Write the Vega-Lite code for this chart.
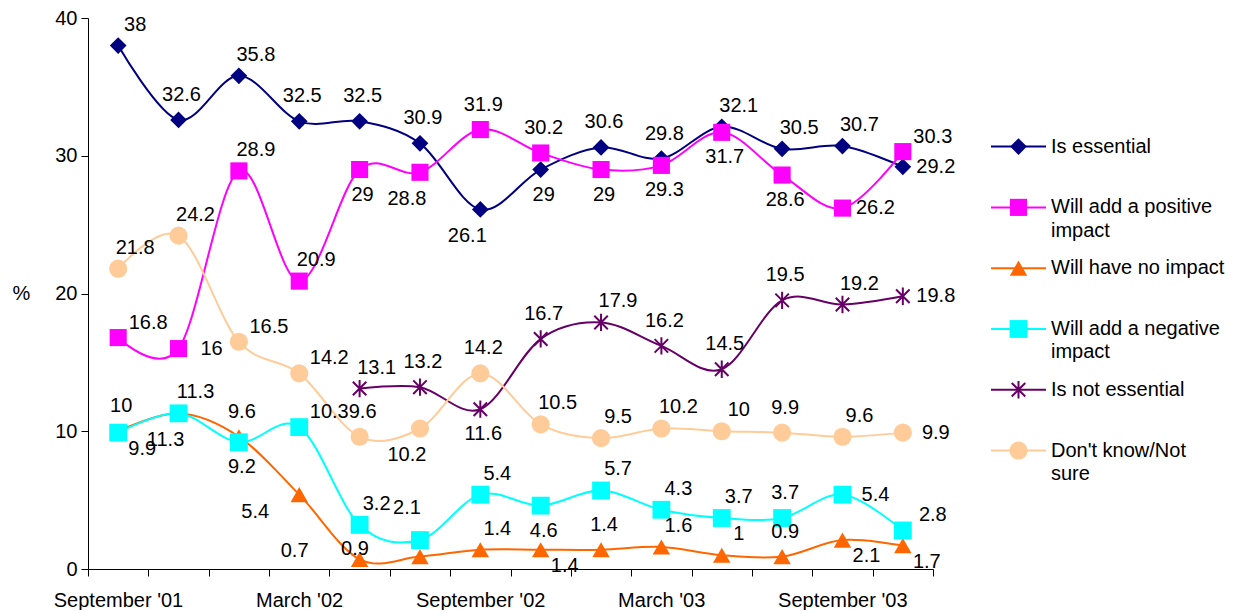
{
  "$schema": "https://vega.github.io/schema/vega-lite/v6.json",
  "background": "white",
  "padding": {"left": 12, "top": 8, "right": 0, "bottom": 0},
  "bounds": "flush",
  "spacing": 58,
  "config": {
    "view": {"stroke": null},
    "font": "Liberation Sans",
    "axis": {"labelFont": "Liberation Sans", "titleFont": "Liberation Sans", "labelFontSize": 20, "titleFontSize": 20, "labelColor": "#000", "titleColor": "#000", "domainColor": "#000", "tickColor": "#000", "grid": false, "tickSize": 7, "titleFontWeight": "normal"},
    "text": {"font": "Liberation Sans", "fontSize": 20, "color": "#000"}
  },
  "resolve": {"scale": {"x": "independent", "y": "independent"}},
  "datasets": {
    "main": [
      {"series": "Is essential", "code": "E", "i": 0, "value": 38},
      {"series": "Is essential", "code": "E", "i": 1, "value": 32.6},
      {"series": "Is essential", "code": "E", "i": 2, "value": 35.8},
      {"series": "Is essential", "code": "E", "i": 3, "value": 32.5},
      {"series": "Is essential", "code": "E", "i": 4, "value": 32.5},
      {"series": "Is essential", "code": "E", "i": 5, "value": 30.9},
      {"series": "Is essential", "code": "E", "i": 6, "value": 26.1},
      {"series": "Is essential", "code": "E", "i": 7, "value": 29},
      {"series": "Is essential", "code": "E", "i": 8, "value": 30.6},
      {"series": "Is essential", "code": "E", "i": 9, "value": 29.8},
      {"series": "Is essential", "code": "E", "i": 10, "value": 32.1},
      {"series": "Is essential", "code": "E", "i": 11, "value": 30.5},
      {"series": "Is essential", "code": "E", "i": 12, "value": 30.7},
      {"series": "Is essential", "code": "E", "i": 13, "value": 29.2},
      {"series": "Will add a positive impact", "code": "P", "i": 0, "value": 16.8},
      {"series": "Will add a positive impact", "code": "P", "i": 1, "value": 16},
      {"series": "Will add a positive impact", "code": "P", "i": 2, "value": 28.9},
      {"series": "Will add a positive impact", "code": "P", "i": 3, "value": 20.9},
      {"series": "Will add a positive impact", "code": "P", "i": 4, "value": 29},
      {"series": "Will add a positive impact", "code": "P", "i": 5, "value": 28.8},
      {"series": "Will add a positive impact", "code": "P", "i": 6, "value": 31.9},
      {"series": "Will add a positive impact", "code": "P", "i": 7, "value": 30.2},
      {"series": "Will add a positive impact", "code": "P", "i": 8, "value": 29},
      {"series": "Will add a positive impact", "code": "P", "i": 9, "value": 29.3},
      {"series": "Will add a positive impact", "code": "P", "i": 10, "value": 31.7},
      {"series": "Will add a positive impact", "code": "P", "i": 11, "value": 28.6},
      {"series": "Will add a positive impact", "code": "P", "i": 12, "value": 26.2},
      {"series": "Will add a positive impact", "code": "P", "i": 13, "value": 30.3},
      {"series": "Will have no impact", "code": "N", "i": 0, "value": 10},
      {"series": "Will have no impact", "code": "N", "i": 1, "value": 11.3},
      {"series": "Will have no impact", "code": "N", "i": 2, "value": 9.6},
      {"series": "Will have no impact", "code": "N", "i": 3, "value": 5.4},
      {"series": "Will have no impact", "code": "N", "i": 4, "value": 0.7},
      {"series": "Will have no impact", "code": "N", "i": 5, "value": 0.9},
      {"series": "Will have no impact", "code": "N", "i": 6, "value": 1.4},
      {"series": "Will have no impact", "code": "N", "i": 7, "value": 1.4},
      {"series": "Will have no impact", "code": "N", "i": 8, "value": 1.4},
      {"series": "Will have no impact", "code": "N", "i": 9, "value": 1.6},
      {"series": "Will have no impact", "code": "N", "i": 10, "value": 1},
      {"series": "Will have no impact", "code": "N", "i": 11, "value": 0.9},
      {"series": "Will have no impact", "code": "N", "i": 12, "value": 2.1},
      {"series": "Will have no impact", "code": "N", "i": 13, "value": 1.7},
      {"series": "Will add a negative impact", "code": "G", "i": 0, "value": 9.9},
      {"series": "Will add a negative impact", "code": "G", "i": 1, "value": 11.3},
      {"series": "Will add a negative impact", "code": "G", "i": 2, "value": 9.2},
      {"series": "Will add a negative impact", "code": "G", "i": 3, "value": 10.3},
      {"series": "Will add a negative impact", "code": "G", "i": 4, "value": 3.2},
      {"series": "Will add a negative impact", "code": "G", "i": 5, "value": 2.1},
      {"series": "Will add a negative impact", "code": "G", "i": 6, "value": 5.4},
      {"series": "Will add a negative impact", "code": "G", "i": 7, "value": 4.6},
      {"series": "Will add a negative impact", "code": "G", "i": 8, "value": 5.7},
      {"series": "Will add a negative impact", "code": "G", "i": 9, "value": 4.3},
      {"series": "Will add a negative impact", "code": "G", "i": 10, "value": 3.7},
      {"series": "Will add a negative impact", "code": "G", "i": 11, "value": 3.7},
      {"series": "Will add a negative impact", "code": "G", "i": 12, "value": 5.4},
      {"series": "Will add a negative impact", "code": "G", "i": 13, "value": 2.8},
      {"series": "Is not essential", "code": "X", "i": 4, "value": 13.1},
      {"series": "Is not essential", "code": "X", "i": 5, "value": 13.2},
      {"series": "Is not essential", "code": "X", "i": 6, "value": 11.6},
      {"series": "Is not essential", "code": "X", "i": 7, "value": 16.7},
      {"series": "Is not essential", "code": "X", "i": 8, "value": 17.9},
      {"series": "Is not essential", "code": "X", "i": 9, "value": 16.2},
      {"series": "Is not essential", "code": "X", "i": 10, "value": 14.5},
      {"series": "Is not essential", "code": "X", "i": 11, "value": 19.5},
      {"series": "Is not essential", "code": "X", "i": 12, "value": 19.2},
      {"series": "Is not essential", "code": "X", "i": 13, "value": 19.8},
      {"series": "Don't know/Not sure", "code": "K", "i": 0, "value": 21.8},
      {"series": "Don't know/Not sure", "code": "K", "i": 1, "value": 24.2},
      {"series": "Don't know/Not sure", "code": "K", "i": 2, "value": 16.5},
      {"series": "Don't know/Not sure", "code": "K", "i": 3, "value": 14.2},
      {"series": "Don't know/Not sure", "code": "K", "i": 4, "value": 9.6},
      {"series": "Don't know/Not sure", "code": "K", "i": 5, "value": 10.2},
      {"series": "Don't know/Not sure", "code": "K", "i": 6, "value": 14.2},
      {"series": "Don't know/Not sure", "code": "K", "i": 7, "value": 10.5},
      {"series": "Don't know/Not sure", "code": "K", "i": 8, "value": 9.5},
      {"series": "Don't know/Not sure", "code": "K", "i": 9, "value": 10.2},
      {"series": "Don't know/Not sure", "code": "K", "i": 10, "value": 10},
      {"series": "Don't know/Not sure", "code": "K", "i": 11, "value": 9.9},
      {"series": "Don't know/Not sure", "code": "K", "i": 12, "value": 9.6},
      {"series": "Don't know/Not sure", "code": "K", "i": 13, "value": 9.9}
    ],
    "legend": [
      {"series": "Is essential", "code": "E", "k": 0, "label": "Is essential"},
      {"series": "Will add a positive impact", "code": "P", "k": 1, "label": "Will add a positive\nimpact"},
      {"series": "Will have no impact", "code": "N", "k": 2, "label": "Will have no impact"},
      {"series": "Will add a negative impact", "code": "G", "k": 3, "label": "Will add a negative\nimpact"},
      {"series": "Is not essential", "code": "X", "k": 4, "label": "Is not essential"},
      {"series": "Don't know/Not sure", "code": "K", "k": 5, "label": "Don't know/Not\nsure"}
    ]
  },
  "hconcat": [
    {
      "width": 845,
      "height": 551,
      "data": {"name": "main"},
      "layer": [
        {
          "mark": {"type": "line", "interpolate": "cardinal", "strokeWidth": 2},
          "encoding": {
            "x": {"field": "i", "type": "quantitative", "scale": {"domain": [-0.5, 13.5], "nice": false, "zero": false},
              "axis": {"title": null, "values": [-0.5, 0.5, 1.5, 2.5, 3.5, 4.5, 5.5, 6.5, 7.5, 8.5, 9.5, 10.5, 11.5, 12.5, 13.5],
                "labelExpr": "datum.value === -0.5 ? \"September '01\" : datum.value === 2.5 ? \"March '02\" : datum.value === 5.5 ? \"September '02\" : datum.value === 8.5 ? \"March '03\" : datum.value === 11.5 ? \"September '03\" : ''",
                "labelOffset": 30, "labelOverlap": false, "labelFlush": false, "labelPadding": 14}},
            "y": {"field": "value", "type": "quantitative", "scale": {"domain": [0, 40], "nice": false},
              "axis": {"values": [0, 10, 20, 30, 40], "title": "%", "titleAngle": 0, "titleX": -67, "titleY": 275.5, "titleAlign": "center", "titleBaseline": "middle", "labelPadding": 4}},
            "color": {"field": "series", "type": "nominal",
              "scale": {"domain": ["Is essential", "Will add a positive impact", "Will have no impact", "Will add a negative impact", "Is not essential", "Don't know/Not sure"],
                "range": ["#000080", "#FF00FF", "#FF6600", "#00FFFF", "#660066", "#FFCC99"]}, "legend": null}
          }
        },
        {
          "transform": [{"filter": "datum.code !== 'X'"}],
          "mark": {"type": "point", "filled": true, "opacity": 1},
          "encoding": {
            "x": {"field": "i", "type": "quantitative"},
            "y": {"field": "value", "type": "quantitative"},
            "fill": {"field": "series", "type": "nominal",
              "scale": {"domain": ["Is essential", "Will add a positive impact", "Will have no impact", "Will add a negative impact", "Don't know/Not sure"],
                "range": ["#000080", "#FF00FF", "#FF6600", "#00FFFF", "#FFCC99"]}, "legend": null},
            "shape": {"field": "series", "type": "nominal",
              "scale": {"domain": ["Is essential", "Will add a positive impact", "Will have no impact", "Will add a negative impact", "Don't know/Not sure"],
                "range": ["diamond", "square", "triangle-up", "square", "circle"]}, "legend": null},
            "size": {"field": "series", "type": "nominal",
              "scale": {"domain": ["Is essential", "Will add a positive impact", "Will have no impact", "Will add a negative impact", "Don't know/Not sure"],
                "range": [280, 330, 330, 340, 324]}, "legend": null}
          }
        },
        {
          "transform": [{"filter": "datum.code === 'X'"}],
          "mark": {"type": "point", "filled": false, "opacity": 1, "shape": "M-0.78,-0.78L0.78,0.78M-0.78,0.78L0.78,-0.78M0,-1L0,1", "size": 300, "stroke": "#660066", "strokeWidth": 2},
          "encoding": {
            "x": {"field": "i", "type": "quantitative"},
            "y": {"field": "value", "type": "quantitative"}
          }
        },
        {
          "transform": [{"filter": "indexof(['E1','E3','E4','E5','E8','E9','P6','P7','N0','N2','N8','N11','G11','X5','X7','X9','X10','X11','K4','K6','K11'], datum.code + datum.i) >= 0"}],
          "mark": {"type": "text", "align": "center", "baseline": "middle", "dx": 3, "dy": -25},
          "encoding": {"x": {"field": "i", "type": "quantitative"}, "y": {"field": "value", "type": "quantitative"}, "text": {"field": "value", "type": "nominal"}}
        },
        {
          "transform": [{"filter": "indexof(['E0','E2','E10','E11','E12','P2','P3','N1','N6','N9','N10','G4','G6','G8','G9','G10','X4','X8','X12','K0','K1','K7','K8','K9','K10','K12'], datum.code + datum.i) >= 0"}],
          "mark": {"type": "text", "align": "center", "baseline": "middle", "dx": 17, "dy": -21},
          "encoding": {"x": {"field": "i", "type": "quantitative"}, "y": {"field": "value", "type": "quantitative"}, "text": {"field": "value", "type": "nominal"}}
        },
        {
          "transform": [{"filter": "indexof(['P0','P13','G3','G13','K2','K3'], datum.code + datum.i) >= 0"}],
          "mark": {"type": "text", "align": "center", "baseline": "middle", "dx": 30, "dy": -15},
          "encoding": {"x": {"field": "i", "type": "quantitative"}, "y": {"field": "value", "type": "quantitative"}, "text": {"field": "value", "type": "nominal"}}
        },
        {
          "transform": [{"filter": "indexof(['E13','P1','P12','G12','X13','K13'], datum.code + datum.i) >= 0"}],
          "mark": {"type": "text", "align": "center", "baseline": "middle", "dx": 33, "dy": 0},
          "encoding": {"x": {"field": "i", "type": "quantitative"}, "y": {"field": "value", "type": "quantitative"}, "text": {"field": "value", "type": "nominal"}}
        },
        {
          "transform": [{"filter": "indexof(['E7','P4','P8','P9','P10','P11','G2','G7','X6'], datum.code + datum.i) >= 0"}],
          "mark": {"type": "text", "align": "center", "baseline": "middle", "dx": 3, "dy": 25},
          "encoding": {"x": {"field": "i", "type": "quantitative"}, "y": {"field": "value", "type": "quantitative"}, "text": {"field": "value", "type": "nominal"}}
        },
        {
          "transform": [{"filter": "indexof(['N7','N12','N13','G0'], datum.code + datum.i) >= 0"}],
          "mark": {"type": "text", "align": "center", "baseline": "middle", "dx": 24, "dy": 16},
          "encoding": {"x": {"field": "i", "type": "quantitative"}, "y": {"field": "value", "type": "quantitative"}, "text": {"field": "value", "type": "nominal"}}
        },
        {
          "transform": [{"filter": "indexof(['E6','P5','G1','K5'], datum.code + datum.i) >= 0"}],
          "mark": {"type": "text", "align": "center", "baseline": "middle", "dx": -13, "dy": 27},
          "encoding": {"x": {"field": "i", "type": "quantitative"}, "y": {"field": "value", "type": "quantitative"}, "text": {"field": "value", "type": "nominal"}}
        },
        {
          "transform": [{"filter": "indexof(['G5'], datum.code + datum.i) >= 0"}],
          "mark": {"type": "text", "align": "center", "baseline": "middle", "dx": -13, "dy": -32},
          "encoding": {"x": {"field": "i", "type": "quantitative"}, "y": {"field": "value", "type": "quantitative"}, "text": {"field": "value", "type": "nominal"}}
        },
        {
          "transform": [{"filter": "indexof(['N3'], datum.code + datum.i) >= 0"}],
          "mark": {"type": "text", "align": "center", "baseline": "middle", "dx": -44, "dy": 17},
          "encoding": {"x": {"field": "i", "type": "quantitative"}, "y": {"field": "value", "type": "quantitative"}, "text": {"field": "value", "type": "nominal"}}
        },
        {
          "transform": [{"filter": "indexof(['N4','N5'], datum.code + datum.i) >= 0"}],
          "mark": {"type": "text", "align": "center", "baseline": "middle", "dx": -65, "dy": -8},
          "encoding": {"x": {"field": "i", "type": "quantitative"}, "y": {"field": "value", "type": "quantitative"}, "text": {"field": "value", "type": "nominal"}}
        }
      ]
    },
    {
      "width": 250,
      "height": 551,
      "data": {"name": "legend"},
      "layer": [
        {
          "mark": {"type": "rule", "strokeWidth": 2},
          "encoding": {
            "x": {"datum": 0, "type": "quantitative", "scale": {"domain": [0, 250], "nice": false, "zero": false}, "axis": null},
            "x2": {"datum": 55},
            "y": {"field": "k", "type": "quantitative", "scale": {"domain": [-2.115, 6.948], "reverse": true, "nice": false, "zero": false}, "axis": null},
            "color": {"field": "series", "type": "nominal",
              "scale": {"domain": ["Is essential", "Will add a positive impact", "Will have no impact", "Will add a negative impact", "Is not essential", "Don't know/Not sure"],
                "range": ["#000080", "#FF00FF", "#FF6600", "#00FFFF", "#660066", "#FFCC99"]}, "legend": null}
          }
        },
        {
          "transform": [{"filter": "datum.code !== 'X'"}],
          "mark": {"type": "point", "filled": true, "opacity": 1},
          "encoding": {
            "x": {"datum": 27.5, "type": "quantitative"},
            "y": {"field": "k", "type": "quantitative"},
            "fill": {"field": "series", "type": "nominal",
              "scale": {"domain": ["Is essential", "Will add a positive impact", "Will have no impact", "Will add a negative impact", "Don't know/Not sure"],
                "range": ["#000080", "#FF00FF", "#FF6600", "#00FFFF", "#FFCC99"]}, "legend": null},
            "shape": {"field": "series", "type": "nominal",
              "scale": {"domain": ["Is essential", "Will add a positive impact", "Will have no impact", "Will add a negative impact", "Don't know/Not sure"],
                "range": ["diamond", "square", "triangle-up", "square", "circle"]}, "legend": null},
            "size": {"field": "series", "type": "nominal",
              "scale": {"domain": ["Is essential", "Will add a positive impact", "Will have no impact", "Will add a negative impact", "Don't know/Not sure"],
                "range": [280, 330, 330, 340, 324]}, "legend": null}
          }
        },
        {
          "transform": [{"filter": "datum.code === 'X'"}],
          "mark": {"type": "point", "filled": false, "opacity": 1, "shape": "M-0.78,-0.78L0.78,0.78M-0.78,0.78L0.78,-0.78M0,-1L0,1", "size": 300, "stroke": "#660066", "strokeWidth": 2},
          "encoding": {
            "x": {"datum": 27.5, "type": "quantitative"},
            "y": {"field": "k", "type": "quantitative"}
          }
        },
        {
          "mark": {"type": "text", "align": "left", "baseline": "top", "dy": -10, "lineBreak": "\n", "lineHeight": 23.5},
          "encoding": {
            "x": {"datum": 60, "type": "quantitative"},
            "y": {"field": "k", "type": "quantitative"},
            "text": {"field": "label", "type": "nominal"}
          }
        }
      ]
    }
  ]
}
